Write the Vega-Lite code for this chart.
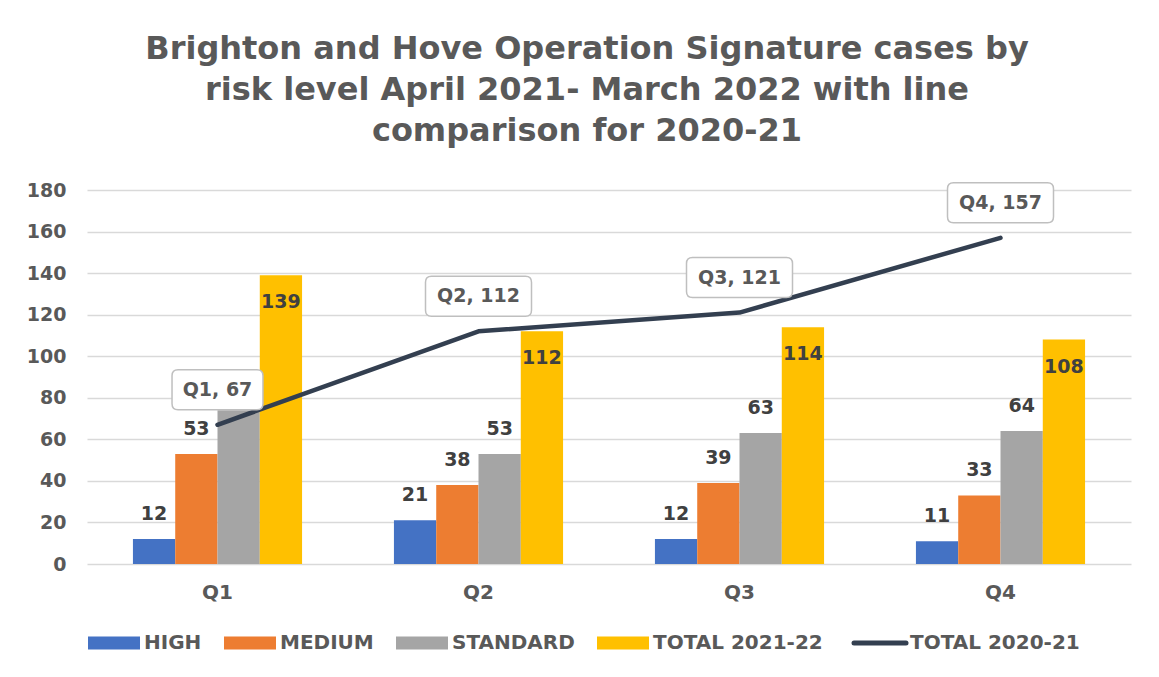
{
  "$schema": "https://vega.github.io/schema/vega-lite/v6.json",
  "width": 1044,
  "height": 374,
  "autosize": {"type": "none"},
  "padding": {"left": 87, "top": 190, "right": 28, "bottom": 113},
  "background": "white",
  "config": {"view": {"stroke": null}, "font": "DejaVu Sans"},
  "title": {
    "text": ["Brighton and Hove Operation Signature cases by", "risk level April 2021- March 2022 with line", "comparison for 2020-21"],
    "font": "DejaVu Sans",
    "fontSize": 32,
    "fontWeight": "bold",
    "color": "#595959",
    "lineHeight": 41,
    "anchor": "middle",
    "frame": "group",
    "dx": -22,
    "offset": 32
  },
  "datasets": {
    "bars": [
      {"quarter": "Q1", "series": "HIGH", "value": 12},
      {"quarter": "Q1", "series": "MEDIUM", "value": 53},
      {"quarter": "Q1", "series": "STANDARD", "value": 74},
      {"quarter": "Q1", "series": "TOTAL 2021-22", "value": 139},
      {"quarter": "Q2", "series": "HIGH", "value": 21},
      {"quarter": "Q2", "series": "MEDIUM", "value": 38},
      {"quarter": "Q2", "series": "STANDARD", "value": 53},
      {"quarter": "Q2", "series": "TOTAL 2021-22", "value": 112},
      {"quarter": "Q3", "series": "HIGH", "value": 12},
      {"quarter": "Q3", "series": "MEDIUM", "value": 39},
      {"quarter": "Q3", "series": "STANDARD", "value": 63},
      {"quarter": "Q3", "series": "TOTAL 2021-22", "value": 114},
      {"quarter": "Q4", "series": "HIGH", "value": 11},
      {"quarter": "Q4", "series": "MEDIUM", "value": 33},
      {"quarter": "Q4", "series": "STANDARD", "value": 64},
      {"quarter": "Q4", "series": "TOTAL 2021-22", "value": 108}
    ],
    "line": [
      {"quarter": "Q1", "series": "TOTAL 2020-21", "value": 67, "label": "Q1, 67"},
      {"quarter": "Q2", "series": "TOTAL 2020-21", "value": 112, "label": "Q2, 112"},
      {"quarter": "Q3", "series": "TOTAL 2020-21", "value": 121, "label": "Q3, 121"},
      {"quarter": "Q4", "series": "TOTAL 2020-21", "value": 157, "label": "Q4, 157"}
    ]
  },
  "encoding": {
    "x": {
      "field": "quarter",
      "type": "nominal",
      "sort": ["Q1", "Q2", "Q3", "Q4"],
      "scale": {"paddingInner": 0.352, "paddingOuter": 0.176},
      "axis": {
        "title": null,
        "labelAngle": 0,
        "labelFont": "DejaVu Sans",
        "labelFontSize": 20,
        "labelFontWeight": "bold",
        "labelColor": "#595959",
        "labelPadding": 18,
        "ticks": false,
        "tickSize": 0,
        "domain": false,
        "grid": false
      }
    },
    "y": {
      "field": "value",
      "type": "quantitative",
      "scale": {"domain": [0, 180], "nice": false},
      "axis": {
        "title": null,
        "values": [0, 20, 40, 60, 80, 100, 120, 140, 160, 180],
        "labelFont": "DejaVu Sans",
        "labelFontSize": 19,
        "labelFontWeight": "bold",
        "labelColor": "#595959",
        "labelPadding": 21,
        "ticks": false,
        "tickSize": 0,
        "domain": false,
        "grid": true,
        "gridColor": "#D9D9D9",
        "gridWidth": 1.3
      }
    }
  },
  "layer": [
    {
      "data": {"name": "bars"},
      "mark": {"type": "bar"},
      "encoding": {
        "xOffset": {"field": "series", "type": "nominal", "sort": ["HIGH", "MEDIUM", "STANDARD", "TOTAL 2021-22"], "scale": {"paddingInner": 0, "paddingOuter": 0}},
        "color": {
          "field": "series",
          "type": "nominal",
          "scale": {
            "domain": ["HIGH", "MEDIUM", "STANDARD", "TOTAL 2021-22", "TOTAL 2020-21"],
            "range": ["#4472C4", "#ED7D31", "#A5A5A5", "#FFC000", "#333F50"]
          },
          "legend": {
            "orient": "none",
            "direction": "horizontal",
            "legendX": 0,
            "legendY": 443,
            "title": null,
            "symbolType": "M-1,-0.25H1V0.25H-1Z",
            "symbolSize": 2704,
            "symbolOffset": 17,
            "labelFont": "DejaVu Sans",
            "labelFontSize": 20,
            "labelFontWeight": "bold",
            "labelColor": "#595959",
            "labelOffset": 20,
            "labelLimit": 400,
            "columnPadding": 21,
            "padding": 0,
            "encode": {
              "symbols": {
                "update": {
                  "shape": {"signal": "datum.value === 'TOTAL 2020-21' ? 'M-1,0H1' : 'M-1,-0.25H1V0.25H-1Z'"},
                  "fill": {"signal": "datum.value === 'TOTAL 2020-21' ? 'transparent' : scale('color', datum.value)"},
                  "stroke": {"signal": "scale('color', datum.value)"},
                  "strokeWidth": {"signal": "datum.value === 'TOTAL 2020-21' ? 5 : 0"},
                  "strokeCap": {"value": "round"},
                  "opacity": {"value": 1}
                }
              }
            }
          }
        }
      }
    },
    {
      "data": {"name": "bars"},
      "transform": [{"filter": "datum.series !== 'TOTAL 2021-22' && !(datum.quarter === 'Q1' && datum.series === 'STANDARD')"}],
      "mark": {"type": "text", "baseline": "middle", "dy": -25, "font": "DejaVu Sans", "fontSize": 19, "fontWeight": "bold", "color": "#404040"},
      "encoding": {
        "xOffset": {"field": "series", "type": "nominal", "sort": ["HIGH", "MEDIUM", "STANDARD", "TOTAL 2021-22"]},
        "text": {"field": "value", "type": "quantitative"}
      }
    },
    {
      "data": {"name": "bars"},
      "transform": [{"filter": "datum.series === 'TOTAL 2021-22'"}],
      "mark": {"type": "text", "baseline": "middle", "dy": 27, "font": "DejaVu Sans", "fontSize": 19, "fontWeight": "bold", "color": "#404040"},
      "encoding": {
        "xOffset": {"field": "series", "type": "nominal", "sort": ["HIGH", "MEDIUM", "STANDARD", "TOTAL 2021-22"]},
        "text": {"field": "value", "type": "quantitative"}
      }
    },
    {
      "data": {"name": "line"},
      "mark": {"type": "line", "strokeWidth": 4.5, "strokeCap": "round", "strokeJoin": "round"},
      "encoding": {
        "color": {"field": "series", "type": "nominal"}
      }
    },
    {
      "data": {"name": "line"},
      "mark": {"type": "point", "filled": true, "fill": "white", "stroke": "#BFBFBF", "strokeWidth": 1.5, "opacity": 1, "size": 11236, "yOffset": -35},
      "encoding": {
        "shape": {
          "field": "quarter",
          "type": "nominal",
          "scale": {
            "domain": ["Q1", "Q2", "Q3", "Q4"],
            "range": [
              "M-0.745,-0.377H0.745Q0.858,-0.377,0.858,-0.264V0.264Q0.858,0.377,0.745,0.377H-0.745Q-0.858,0.377,-0.858,0.264V-0.264Q-0.858,-0.377,-0.745,-0.377Z",
              "M-0.887,-0.377H0.887Q1,-0.377,1,-0.264V0.264Q1,0.377,0.887,0.377H-0.887Q-1,0.377,-1,0.264V-0.264Q-1,-0.377,-0.887,-0.377Z",
              "M-0.887,-0.377H0.887Q1,-0.377,1,-0.264V0.264Q1,0.377,0.887,0.377H-0.887Q-1,0.377,-1,0.264V-0.264Q-1,-0.377,-0.887,-0.377Z",
              "M-0.887,-0.377H0.887Q1,-0.377,1,-0.264V0.264Q1,0.377,0.887,0.377H-0.887Q-1,0.377,-1,0.264V-0.264Q-1,-0.377,-0.887,-0.377Z"
            ]
          },
          "legend": null
        }
      }
    },
    {
      "data": {"name": "line"},
      "mark": {"type": "text", "baseline": "middle", "dy": -35, "font": "DejaVu Sans", "fontSize": 19, "fontWeight": "bold", "color": "#595959"},
      "encoding": {
        "text": {"field": "label", "type": "nominal"}
      }
    }
  ]
}
